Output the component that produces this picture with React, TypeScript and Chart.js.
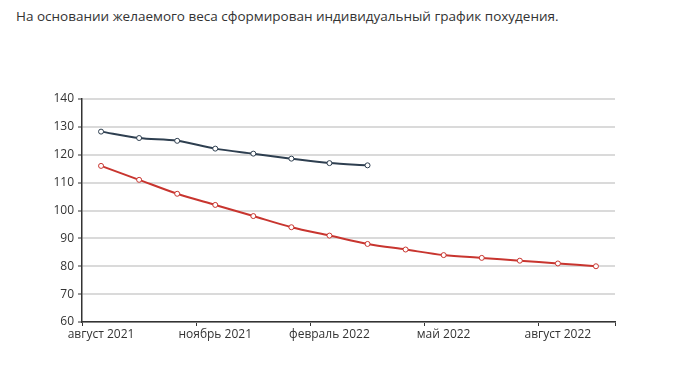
import React, { useEffect, useRef } from "react";
import { Chart, registerables } from "chart.js";

Chart.register(...registerables);

const titleText = "На основании желаемого веса сформирован индивидуальный график похудения.";
const xTickLabels = ["август 2021", "ноябрь 2021", "февраль 2022", "май 2022", "август 2022"];
const xTickValues = [0, 3, 6, 9, 12, 14];
const currentWeight = [128.3, 126.0, 125.0, 122.2, 120.4, 118.6, 117.0, 116.2];
const plannedWeight = [116, 111, 106, 102, 98, 94, 91, 88, 86, 84, 83, 82, 81, 80];

const toPoints = (vals: number[]) => vals.map((v, i) => ({ x: i + 0.5, y: v }));

export default function App() {
  const ref = useRef<HTMLCanvasElement | null>(null);
  useEffect(() => {
    if (!ref.current) return;
    const font = { family: "'Open Sans', sans-serif", size: 12 };
    const chart = new Chart(ref.current, {
      type: "line",
      data: {
        datasets: [
          {
            data: toPoints(currentWeight),
            borderColor: "#2e3f50",
            borderWidth: 2,
            tension: 0.3,
            pointRadius: 2.5,
            pointBackgroundColor: "#ffffff",
            pointBorderColor: "#2e3f50",
            pointBorderWidth: 1,
          },
          {
            data: toPoints(plannedWeight),
            borderColor: "#c8352f",
            borderWidth: 2,
            tension: 0.3,
            pointRadius: 2.5,
            pointBackgroundColor: "#ffffff",
            pointBorderColor: "#c8352f",
            pointBorderWidth: 1,
          },
        ],
      },
      options: {
        animation: false,
        responsive: false,
        layout: { padding: { left: 0, right: 65, top: 99, bottom: 0 } },
        plugins: { legend: { display: false }, tooltip: { enabled: false } },
        scales: {
          x: {
            type: "linear",
            min: 0,
            max: 14,
            afterBuildTicks: (s: any) => {
              s.ticks = xTickValues.map((v) => ({ value: v }));
            },
            afterFit: (s: any) => {
              s.height = 44;
            },
            border: { display: true, color: "#333333", width: 1.5 },
            grid: { drawOnChartArea: false, drawTicks: true, tickLength: 4, tickColor: "#333333", tickWidth: 1 },
            ticks: {
              autoSkip: false,
              maxRotation: 0,
              labelOffset: 19,
              padding: 1,
              color: "#333333",
              font,
              callback: (v: any) => {
                const idx = xTickValues.indexOf(Number(v));
                return idx >= 0 && idx < xTickLabels.length ? xTickLabels[idx] : "";
              },
            },
          },
          y: {
            min: 60,
            max: 140,
            afterFit: (s: any) => {
              s.width = 82;
            },
            border: { display: true, color: "#333333", width: 1.5 },
            grid: { color: "#dadada", lineWidth: 2, drawTicks: true, tickLength: 4, tickColor: "#333333", tickWidth: 1 },
            ticks: { stepSize: 10, padding: 4, color: "#333333", font },
          },
        },
      },
    } as any);
    return () => chart.destroy();
  }, []);
  return (
    <div style={{ position: "fixed", left: 0, top: 0, width: 680, height: 366, background: "#fff" }}>
      <div
        style={{
          position: "absolute",
          left: 16,
          top: 7,
          fontFamily: "'Open Sans', sans-serif",
          fontSize: 13.5,
          color: "#333333",
          whiteSpace: "nowrap",
        }}
      >
        {titleText}
      </div>
      <canvas ref={ref} width={680} height={366} style={{ position: "absolute", left: 0, top: 0 }} />
    </div>
  );
}
